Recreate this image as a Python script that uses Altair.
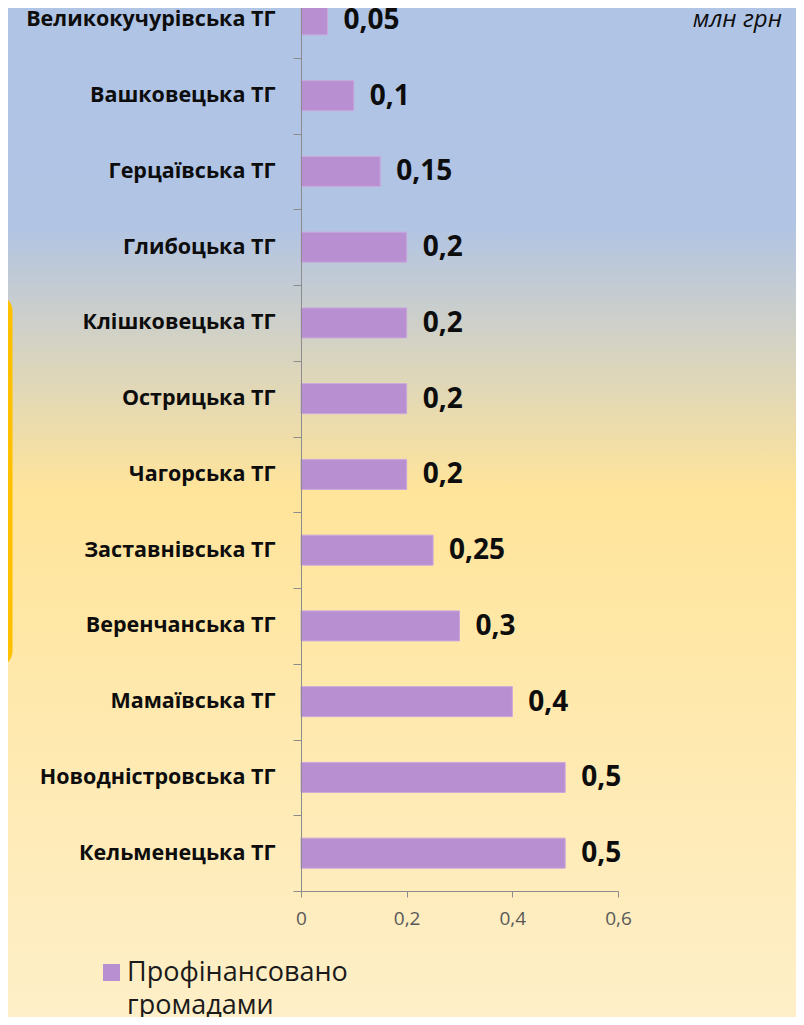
import altair as alt
import pandas as pd

categories = [
    "Великокучурівська ТГ", "Вашковецька ТГ", "Герцаївська ТГ", "Глибоцька ТГ",
    "Клішковецька ТГ", "Острицька ТГ", "Чагорська ТГ", "Заставнівська ТГ",
    "Веренчанська ТГ", "Мамаївська ТГ", "Новодністровська ТГ", "Кельменецька ТГ",
]
values = [0.05, 0.1, 0.15, 0.2, 0.2, 0.2, 0.2, 0.25, 0.3, 0.4, 0.5, 0.5]
value_labels = ["0,05", "0,1", "0,15", "0,2", "0,2", "0,2", "0,2", "0,25", "0,3", "0,4", "0,5", "0,5"]
series_name = "Профінансовано громадами"
x_ticks = [0, 0.2, 0.4, 0.6]
unit_label = "млн грн"

df = pd.DataFrame({"cat": categories, "val": values, "lbl": value_labels,
                   "series": [series_name] * len(categories)})

W, H = 317, 883
PAD_L, PAD_R, PAD_T, PAD_B = 293, 178, 0, 126
FONT = "Open Sans"

bg = alt.Chart(pd.DataFrame({"a": [0]})).mark_rect(
    fill=alt.Gradient(
        gradient="linear", x1=0, y1=0, x2=0, y2=1,
        stops=[
            alt.GradientStop(offset=0, color="#B0C4E6"),
            alt.GradientStop(offset=0.215, color="#B1C4E4"),
            alt.GradientStop(offset=0.478, color="#FFE49A"),
            alt.GradientStop(offset=1, color="#FEEFC8"),
        ],
    )
).encode(
    x=alt.value(-PAD_L), x2=alt.value(W + PAD_R),
    y=alt.value(-PAD_T), y2=alt.value(H + PAD_B),
)

frame = alt.Chart(pd.DataFrame({"a": [0]})).mark_rect(
    fill="#A9C4DE", stroke="#FFC000", strokeWidth=5, cornerRadius=14
).encode(
    x=alt.value(-PAD_L - 60), x2=alt.value(-PAD_L + 2),
    y=alt.value(297 - 8), y2=alt.value(665 - 8),
)

yscale = alt.Scale(domain=categories, range=[-26, H], paddingInner=0, paddingOuter=0)
xscale = alt.Scale(domain=[0, 0.6], nice=False)

bars = alt.Chart(df).mark_bar(size=30, stroke="#C9A8DD", strokeWidth=1).encode(
    y=alt.Y("cat:N", scale=yscale, sort=categories, title=None,
            axis=alt.Axis(tickBand="extent", tickSize=8, tickColor="#8C8C8C",
                          domainColor="#8C8C8C", labelPadding=18, zindex=2,
                          labelFont=FONT, labelFontSize=21.5, labelFontWeight="bold",
                          labelColor="#0D0D0D", labelLimit=300)),
    x=alt.X("val:Q", scale=xscale, title=None,
            axis=alt.Axis(values=x_ticks, tickSize=6, tickColor="#8C8C8C",
                          domainColor="#8C8C8C", labelPadding=12, zindex=2,
                          labelFlush=False,
                          labelExpr="replace(format(datum.value, '~g'), '.', ',')",
                          labelFont=FONT, labelFontSize=19, labelColor="#595959",
                          grid=False)),
    color=alt.Color("series:N", scale=alt.Scale(range=["#B88FD1"]), legend=None),
)

labels = alt.Chart(df).mark_text(
    align="left", baseline="middle", dx=16, dy=1, font=FONT, fontSize=28, fontWeight="bold",
    color="#0D0D0D"
).encode(
    y=alt.Y("cat:N", scale=yscale, sort=categories),
    x=alt.X("val:Q", scale=xscale),
    text="lbl:N",
)

legend_df = pd.DataFrame({"series": [series_name]})
legend_sym = alt.Chart(legend_df).mark_square(size=289, opacity=1).encode(
    x=alt.value(-189.5), y=alt.value(964.5),
    color=alt.Color("series:N", scale=alt.Scale(range=["#B88FD1"]), legend=None),
)
legend_txt = alt.Chart(legend_df).mark_text(
    align="left", baseline="alphabetic", lineBreak=" ", lineHeight=33,
    font=FONT, fontSize=27, color="#1A1A1A"
).encode(x=alt.value(-174), y=alt.value(973), text="series:N")

unit = alt.Chart(pd.DataFrame({"t": [unit_label]})).mark_text(
    align="right", baseline="middle", font=FONT, fontSize=24, fontStyle="italic",
    color="#0D0D0D"
).encode(x=alt.value(481), y=alt.value(12), text="t:N")

chart = alt.layer(bg, frame, bars, labels, legend_sym, legend_txt, unit).properties(
    width=W, height=H,
    autosize=alt.AutoSizeParams(type="none"),
    padding={"left": PAD_L, "right": PAD_R, "top": PAD_T, "bottom": PAD_B},
).configure_view(stroke=None).configure(background="white")

chart.save("out.html", embed_options={"renderer": "svg", "actions": False})
